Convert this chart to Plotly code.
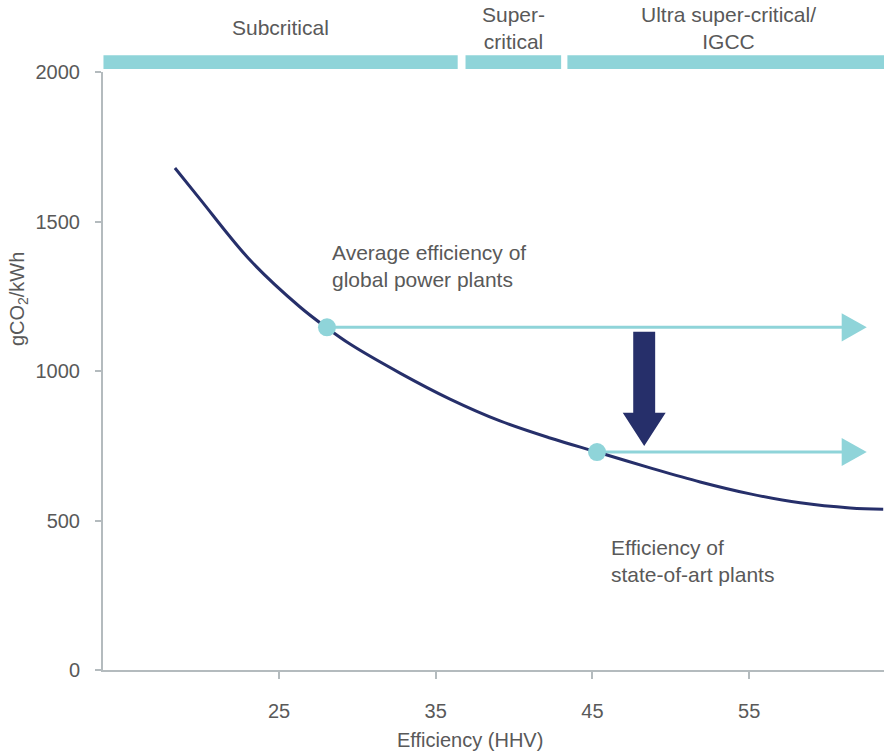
import plotly.graph_objects as go

# ---- data ----
efficiency = [18.36, 19.96, 23.15, 26.34, 28.06, 29.53, 32.72, 35.91, 39.10, 42.29, 45.29, 48.68, 51.87, 55.06, 58.25, 61.44, 63.55]
emissions = [1679, 1575, 1371, 1214, 1144, 1090, 993, 906, 833, 776, 729, 676, 629, 589, 559, 542, 538]

avg_eff, avg_em = 28.06, 1146
soa_eff, soa_em = 45.29, 729
arrow_end_eff = 62.5
drop_eff = 48.3

regimes = ["Subcritical", "Super-<br>critical", "Ultra super-critical/<br>IGCC"]
regime_start = [13.8, 36.9, 43.4]
regime_end = [36.4, 43.0, 63.9]

x_ticks = [25, 35, 45, 55]
y_ticks = [0, 500, 1000, 1500, 2000]

NAVY = "#262f6a"
TEAL = "#8fd4d9"
GREY = "#595959"
AXIS = "#b4bbbe"
FONT = "Liberation Sans, Arial, sans-serif"
FS = 21

fig = go.Figure()

# horizontal teal lines
for e0, em in [(avg_eff, avg_em), (soa_eff, soa_em)]:
    fig.add_trace(go.Scatter(x=[e0, arrow_end_eff - 1.5], y=[em, em], mode="lines",
                             line=dict(color=TEAL, width=3), hoverinfo="skip", showlegend=False))

# curve
fig.add_trace(go.Scatter(x=efficiency, y=emissions, mode="lines",
                         line=dict(color=NAVY, width=3, shape="spline", smoothing=1.0),
                         hoverinfo="skip", showlegend=False))

# points
fig.add_trace(go.Scatter(x=[avg_eff, soa_eff], y=[avg_em, soa_em], mode="markers",
                         marker=dict(color=TEAL, size=18), hoverinfo="skip", showlegend=False))

shapes = []
# arrow heads for horizontal lines
head_len, head_half = 1.6, 47
for em in [avg_em, soa_em]:
    shapes.append(dict(type="path", xref="x", yref="y",
                       path=f"M {arrow_end_eff - head_len} {em - head_half} L {arrow_end_eff} {em} "
                            f"L {arrow_end_eff - head_len} {em + head_half} Z",
                       fillcolor=TEAL, line=dict(width=0)))

# big down arrow
shaft_half, head_w = 0.7, 1.37
top_y = avg_em - 15
base_y = 860
tip_y = soa_em + 20
shapes.append(dict(type="path", xref="x", yref="y",
                   path=(f"M {drop_eff - shaft_half} {top_y} L {drop_eff + shaft_half} {top_y} "
                         f"L {drop_eff + shaft_half} {base_y} L {drop_eff + head_w} {base_y} "
                         f"L {drop_eff} {tip_y} L {drop_eff - head_w} {base_y} "
                         f"L {drop_eff - shaft_half} {base_y} Z"),
                   fillcolor=NAVY, line=dict(width=0)))

# regime bars
annotations = []
for name, s, e in zip(regimes, regime_start, regime_end):
    shapes.append(dict(type="rect", xref="x", yref="paper", x0=s, x1=e, y0=1.005, y1=1.028,
                       fillcolor=TEAL, line=dict(width=0), layer="above"))
    annotations.append(dict(x=(s + e) / 2, y=1.0736, xref="x", yref="paper", text=name,
                            showarrow=False, xanchor="center", yanchor="middle",
                            font=dict(family=FONT, size=FS, color=GREY)))

annotations += [
    dict(x=28.25, y=1351, xref="x", yref="y", text="Average efficiency of<br>global power plants",
         showarrow=False, xanchor="left", yanchor="middle", align="left",
         font=dict(family=FONT, size=FS, color=GREY)),
    dict(x=46.06, y=364, xref="x", yref="y", text="Efficiency of<br>state-of-art plants",
         showarrow=False, xanchor="left", yanchor="middle", align="left",
         font=dict(family=FONT, size=FS, color=GREY)),
    dict(x=-0.109, y=0.62, xref="paper", yref="paper", text="gCO<sub>2</sub>/kWh",
         showarrow=False, textangle=-90, xanchor="center", yanchor="middle",
         font=dict(family=FONT, size=FS - 1, color=GREY)),
    dict(x=0.47, y=-0.117, xref="paper", yref="paper", text="Efficiency (HHV)",
         showarrow=False, xanchor="center", yanchor="middle",
         font=dict(family=FONT, size=FS - 1, color=GREY)),
]

fig.update_layout(
    width=887, height=751,
    margin=dict(l=103, r=3, t=72, b=81),
    paper_bgcolor="white", plot_bgcolor="white",
    shapes=shapes, annotations=annotations,
    showlegend=False,
    font=dict(family=FONT, size=FS, color=GREY),
)
fig.update_xaxes(range=[13.77, 63.6], tickvals=x_ticks, ticks="outside", ticklen=7,
                 tickcolor=AXIS, tickwidth=2, showline=True, linecolor=AXIS, linewidth=2,
                 showgrid=False, zeroline=False, ticklabelstandoff=15,
                 tickfont=dict(family=FONT, size=FS - 1, color=GREY))
fig.update_yaxes(range=[0, 2000], tickvals=y_ticks, ticks="outside", ticklen=6,
                 tickcolor=AXIS, tickwidth=2, showline=True, linecolor=AXIS, linewidth=2,
                 showgrid=False, zeroline=False, ticklabelstandoff=11,
                 tickfont=dict(family=FONT, size=FS - 1, color=GREY))

fig.write_html("out.html", config={"displayModeBar": False},
               post_script="document.body.style.margin='0';")
